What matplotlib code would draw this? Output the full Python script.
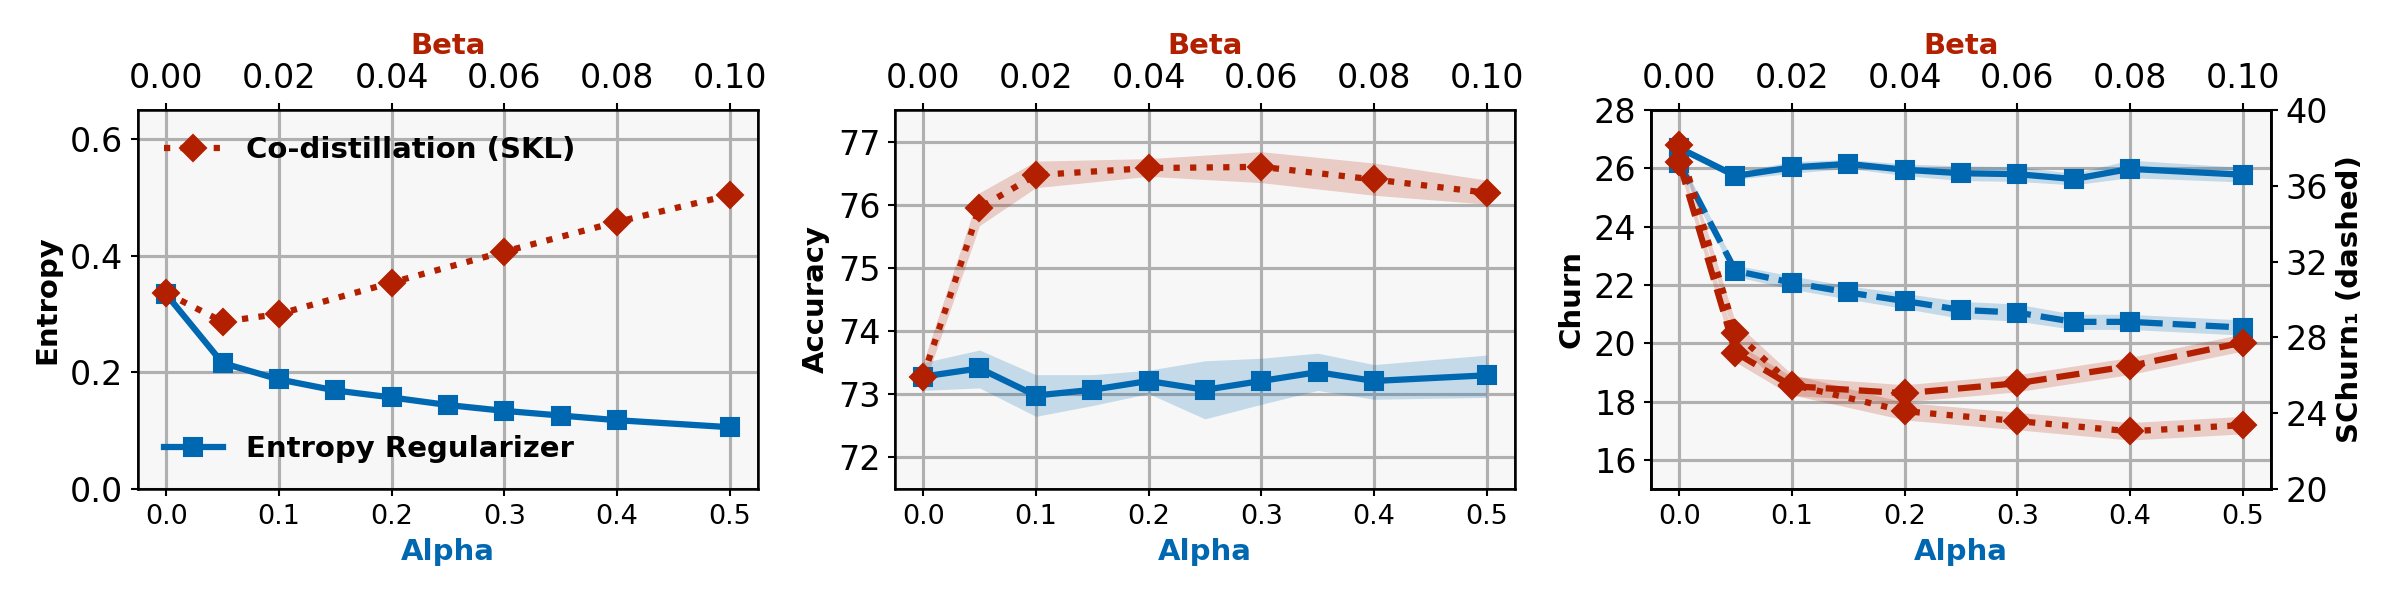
import matplotlib
matplotlib.use("Agg")
import matplotlib.pyplot as plt

# ---------------- data ----------------
alpha = [0.0, 0.05, 0.1, 0.15, 0.2, 0.25, 0.3, 0.35, 0.4, 0.5]
beta = [0.0, 0.01, 0.02, 0.04, 0.06, 0.08, 0.10]

entropy_reg = [0.334, 0.216, 0.188, 0.169, 0.157, 0.144, 0.134, 0.126, 0.118, 0.106]
entropy_codist = [0.336, 0.287, 0.300, 0.354, 0.407, 0.458, 0.504]

acc_reg = [73.28, 73.41, 72.98, 73.07, 73.21, 73.07, 73.21, 73.35, 73.21, 73.30]
acc_reg_lo = [73.06, 73.10, 72.65, 72.82, 73.01, 72.61, 72.84, 73.06, 72.92, 72.95]
acc_reg_hi = [73.50, 73.70, 73.31, 73.31, 73.38, 73.53, 73.57, 73.65, 73.47, 73.62]
acc_codist = [73.28, 75.95, 76.47, 76.58, 76.60, 76.40, 76.19]
acc_codist_lo = [73.10, 75.67, 76.27, 76.45, 76.35, 76.15, 76.01]
acc_codist_hi = [73.50, 76.19, 76.69, 76.73, 76.84, 76.66, 76.39]

churn_reg = [26.70, 25.74, 26.03, 26.15, 25.95, 25.83, 25.80, 25.63, 25.98, 25.78]
churn_reg_sd = [0.12, 0.12, 0.20, 0.15, 0.20, 0.25, 0.25, 0.20, 0.30, 0.25]
schurn_reg = [37.20, 31.51, 30.89, 30.37, 29.92, 29.45, 29.31, 28.82, 28.82, 28.52]
schurn_reg_sd = [0.30, 0.30, 0.35, 0.35, 0.40, 0.45, 0.45, 0.40, 0.40, 0.40]
churn_codist = [26.80, 20.36, 18.58, 17.67, 17.33, 16.98, 17.19]
churn_codist_sd = [0.15, 0.35, 0.35, 0.30, 0.30, 0.30, 0.30]
schurn_codist = [37.25, 27.20, 25.43, 25.05, 25.58, 26.49, 27.73]
schurn_codist_sd = [0.30, 0.50, 0.50, 0.45, 0.45, 0.45, 0.45]

alpha_ticks = [0.0, 0.1, 0.2, 0.3, 0.4, 0.5]
beta_ticks = [0.00, 0.02, 0.04, 0.06, 0.08, 0.10]

BLUE = '#0067b1'
RED = '#b22000'
LW = 3.0
MS = 8.5

plt.rcParams['font.family'] = ['DejaVu Sans']

fig = plt.figure(figsize=(16, 4), dpi=150)
lefts = [0.0575, 0.3729, 0.6879]
W, B, H = 0.2583, 0.185, 0.6317


def style_axes(ax):
    ax.set_facecolor('#f7f7f7')
    ax.set_axisbelow(True)
    ax.grid(True, color='#b0b0b0', linewidth=1.5)
    for s in ax.spines.values():
        s.set_linewidth(1.2)
    ax.set_xlim(-0.025, 0.525)
    ax.set_xticks(alpha_ticks)
    ax.set_xticklabels([f"{t:.1f}" for t in alpha_ticks])
    ax.tick_params(axis='x', labelsize=13, width=1.0)
    ax.tick_params(axis='y', labelsize=16, width=1.0)
    ax.set_xlabel('Alpha', color=BLUE, fontsize=14, fontweight='bold')


def beta_axis(ax, show=True):
    axb = ax.twiny()
    axb.set_xlim(-0.005, 0.105)
    axb.set_xticks(beta_ticks)
    if show:
        axb.set_xticklabels([f"{t:.2f}" for t in beta_ticks])
        axb.tick_params(axis='x', labelsize=16, width=1.0)
        axb.set_xlabel('Beta', color=RED, fontsize=14, fontweight='bold')
    else:
        axb.tick_params(axis='x', top=False, labeltop=False)
    return axb


# ---------- panel 1: entropy ----------
ax1 = fig.add_axes([lefts[0], B, W, H])
style_axes(ax1)
ax1.set_ylim(0, 0.65)
ax1.set_yticks([0.0, 0.2, 0.4, 0.6])
ax1.set_ylabel('Entropy', fontsize=14, fontweight='bold')
l1, = ax1.plot(alpha, entropy_reg, color=BLUE, lw=LW, ls='-', marker='s', ms=MS,
               label='Entropy Regularizer')
ax1b = beta_axis(ax1)
l2, = ax1b.plot(beta, entropy_codist, color=RED, lw=LW, ls=':', marker='D', ms=MS,
                label='Co-distillation (SKL)')
ax1b.legend(handles=[l2], loc='upper left', frameon=False,
            prop={'weight': 'bold', 'size': 14})
ax1.legend(handles=[l1], loc='lower left', frameon=False,
           prop={'weight': 'bold', 'size': 14})

# ---------- panel 2: accuracy ----------
ax2 = fig.add_axes([lefts[1], B, W, H])
style_axes(ax2)
ax2.set_ylim(71.5, 77.5)
ax2.set_yticks([72, 73, 74, 75, 76, 77])
ax2.set_ylabel('Accuracy', fontsize=14, fontweight='bold')
ax2.fill_between(alpha, acc_reg_lo, acc_reg_hi, color=BLUE, alpha=0.2, lw=0)
ax2.plot(alpha, acc_reg, color=BLUE, lw=LW, ls='-', marker='s', ms=MS)
ax2b = beta_axis(ax2)
ax2b.fill_between(beta, acc_codist_lo, acc_codist_hi, color=RED, alpha=0.2, lw=0)
ax2b.plot(beta, acc_codist, color=RED, lw=LW, ls=':', marker='D', ms=MS)

# ---------- panel 3: churn ----------
ax3 = fig.add_axes([lefts[2], B, W, H])
style_axes(ax3)
ax3.set_ylim(15, 28)
ax3.set_yticks([16, 18, 20, 22, 24, 26, 28])
ax3.set_ylabel('Churn', fontsize=14, fontweight='bold')
lo = [m - s for m, s in zip(churn_reg, churn_reg_sd)]
hi = [m + s for m, s in zip(churn_reg, churn_reg_sd)]
ax3.fill_between(alpha, lo, hi, color=BLUE, alpha=0.2, lw=0)
ax3.plot(alpha, churn_reg, color=BLUE, lw=LW, ls='-', marker='s', ms=MS)

ax3r = ax3.twinx()
ax3r.set_ylim(20, 40)
ax3r.set_yticks([20, 24, 28, 32, 36, 40])
ax3r.tick_params(axis='y', labelsize=16, width=1.0)
ax3r.set_ylabel('SChurn\u2081 (dashed)', fontsize=14, fontweight='bold')
lo = [m - s for m, s in zip(schurn_reg, schurn_reg_sd)]
hi = [m + s for m, s in zip(schurn_reg, schurn_reg_sd)]
ax3r.fill_between(alpha, lo, hi, color=BLUE, alpha=0.2, lw=0)
ax3r.plot(alpha, schurn_reg, color=BLUE, lw=LW, ls='--', marker='s', ms=MS)

ax3b = beta_axis(ax3)
lo = [m - s for m, s in zip(churn_codist, churn_codist_sd)]
hi = [m + s for m, s in zip(churn_codist, churn_codist_sd)]
ax3b.fill_between(beta, lo, hi, color=RED, alpha=0.2, lw=0)
ax3b.plot(beta, churn_codist, color=RED, lw=LW, ls=':', marker='D', ms=MS)

ax3rb = ax3r.twiny()
ax3rb.set_xlim(-0.005, 0.105)
ax3rb.tick_params(axis='x', top=False, labeltop=False)
lo = [m - s for m, s in zip(schurn_codist, schurn_codist_sd)]
hi = [m + s for m, s in zip(schurn_codist, schurn_codist_sd)]
ax3rb.fill_between(beta, lo, hi, color=RED, alpha=0.2, lw=0)
ax3rb.plot(beta, schurn_codist, color=RED, lw=LW, ls='--', marker='D', ms=MS)
for s in ax3r.spines.values():
    s.set_linewidth(1.2)

fig.savefig('out.png', dpi=150)
